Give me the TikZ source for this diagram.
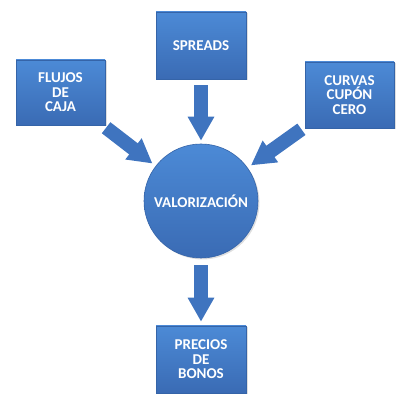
\documentclass[tikz,border=0pt]{standalone}
\usepackage{fontspec}
\setmainfont{Carlito}
\usetikzlibrary{arrows.meta, shadows}

\definecolor{blueTop}{HTML}{4C8AD6}
\definecolor{blueBot}{HTML}{3A6BB4}
\definecolor{blueEdge}{HTML}{3564A8}
\definecolor{arrowBlue}{HTML}{3F74BF}

\begin{document}
\begin{tikzpicture}[
    x=1pt, y=1pt,
    every node/.style={font=\bfseries\fontsize{15}{14.5}\selectfont, text=white, align=center},
    box/.style={draw=blueEdge, line width=0.6pt, rectangle, top color=blueTop, bottom color=blueBot,
        drop shadow={shadow xshift=1.5pt, shadow yshift=-1.5pt, opacity=0.25}},
    bigcircle/.style={draw=blueEdge, line width=0.6pt, circle, top color=blueTop, bottom color=blueBot,
        drop shadow={shadow xshift=1.5pt, shadow yshift=-1.5pt, opacity=0.25}},
    arrow/.style={-{Triangle[width=25pt, length=24pt]}, line width=14pt, draw=arrowBlue}
]
\useasboundingbox (0,0) rectangle (405,-403);

\node[bigcircle, minimum size=114pt, inner sep=0pt] (val) at (201,-201) {VALORIZACIÓN};
\node[box, minimum width=90pt, minimum height=67pt] (spreads) at (201,-45.5) {SPREADS};
\node[box, minimum width=89pt, minimum height=65pt] (flujos) at (60.5,-92.5) {FLUJOS\\DE\\CAJA};
\node[box, minimum width=89pt, minimum height=66pt] (curvas) at (349.5,-95) {CURVAS\\CUPÓN\\CERO};
\node[box, minimum width=90pt, minimum height=67pt] (precios) at (201,-359.5) {PRECIOS\\DE\\BONOS};

\draw[arrow, shorten <=6pt, shorten >=3pt] (spreads) -- (val);
\draw[arrow, shorten <=4pt, shorten >=4pt] (flujos) -- (val);
\draw[arrow, shorten <=4pt, shorten >=4pt] (curvas) -- (val);
\draw[arrow, shorten <=7pt, shorten >=4pt] (val) -- (precios);

\end{tikzpicture}
\end{document}
